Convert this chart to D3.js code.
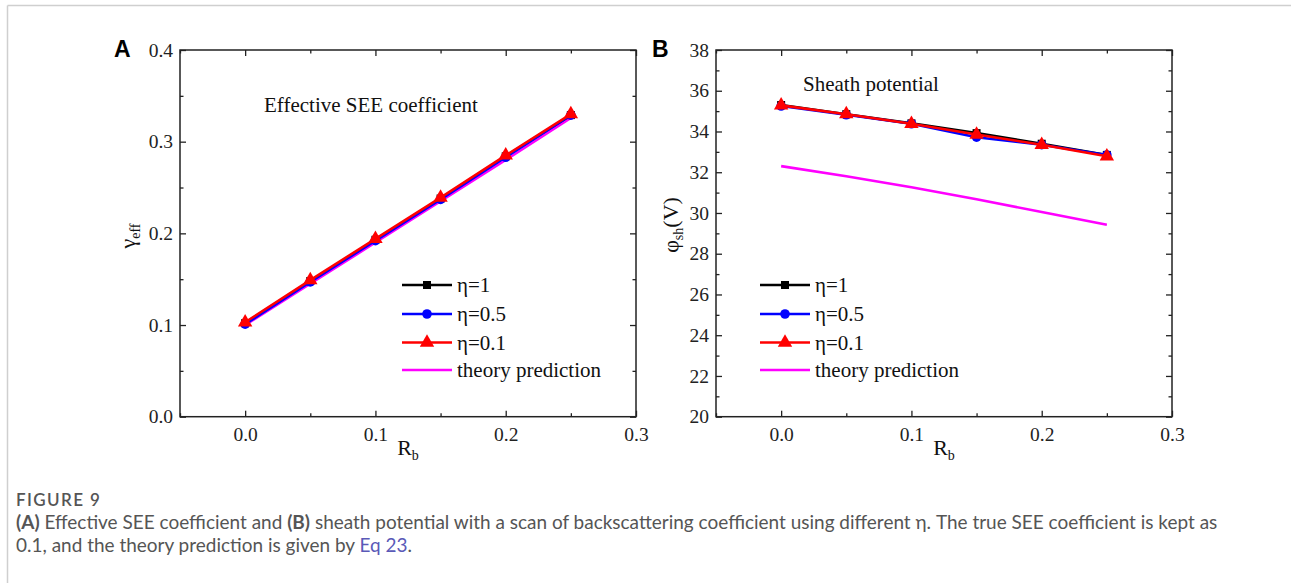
<!DOCTYPE html>
<html>
<head>
<meta charset="utf-8">
<script src="https://cdn.jsdelivr.net/npm/d3@7"></script>
<style>
  body { margin: 0; background: #fff; }
  svg text { font-family: "Liberation Serif", "Times New Roman", serif; }
</style>
</head>
<body>
<div id="chart"></div>
<script>
// data
const rb = [0, 0.05, 0.1, 0.15, 0.2, 0.25];

const gammaEta1 = [0.102, 0.148, 0.193, 0.238, 0.284, 0.329];
const gammaEta05 = [0.101, 0.147, 0.192, 0.237, 0.283, 0.329];
const gammaEta01 = [0.103, 0.149, 0.194, 0.239, 0.285, 0.330];
const gammaTheory = [0.100, 0.145, 0.190, 0.235, 0.280, 0.326];

const phiEta1 = [35.30, 34.85, 34.40, 33.92, 33.40, 32.85];
const phiEta05 = [35.25, 34.82, 34.38, 33.72, 33.35, 32.85];
const phiEta01 = [35.28, 34.85, 34.38, 33.85, 33.35, 32.78];
const phiTheory = [32.30, 31.80, 31.26, 30.67, 30.05, 29.42];

const legendLabels = ["η=1", "η=0.5", "η=0.1", "theory prediction"];
const xTicks = [0.0, 0.1, 0.2, 0.3];
const xMinor = [-0.05, 0.05, 0.15, 0.25];
const gammaTicks = [0.0, 0.1, 0.2, 0.3, 0.4];
const gammaMinor = [0.05, 0.15, 0.25, 0.35];
const phiTicks = [20, 22, 24, 26, 28, 30, 32, 34, 36, 38];
const phiMinor = [21, 23, 25, 27, 29, 31, 33, 35, 37];

// svg container
const svgWidth = 1291;
const svgHeight = 583;

const svg = d3.select("#chart").append("svg")
    .attr("width", svgWidth)
    .attr("height", svgHeight);

// light page border
svg.append("line").attr("x1", 7.5).attr("x2", svgWidth).attr("y1", 5.5).attr("y2", 5.5)
    .attr("stroke", "#cfcfcf").attr("stroke-width", 1.5);
svg.append("line").attr("x1", 7.5).attr("x2", 7.5).attr("y1", 5.5).attr("y2", svgHeight)
    .attr("stroke", "#cfcfcf").attr("stroke-width", 1.5);

const seriesStyle = [
    { color: "#000000", symbol: d3.symbolSquare, size: 64 },
    { color: "#0000ff", symbol: d3.symbolCircle, size: 72 },
    { color: "#ff0000", symbol: d3.symbolTriangle, size: 90 },
    { color: "#ff00ff", symbol: null, size: 0 }
];

function drawPanel(opt) {
    const g = svg.append("g");
    const x = d3.scaleLinear().domain([-0.05, 0.3]).range([opt.left, opt.right]);
    const y = d3.scaleLinear().domain(opt.yDomain).range([opt.bottom, opt.top]);

    // theory first, then simulation series on top
    const series = [opt.values[3], opt.values[0], opt.values[1], opt.values[2]];
    const styles = [seriesStyle[3], seriesStyle[0], seriesStyle[1], seriesStyle[2]];
    const line = d3.line().x((d, i) => x(rb[i])).y(d => y(d));

    series.forEach(function(vals, k) {
        const st = styles[k];
        g.append("path")
            .datum(vals)
            .attr("d", line)
            .attr("fill", "none")
            .attr("stroke", st.color)
            .attr("stroke-width", 2.6);
        if (st.symbol) {
            g.selectAll(null)
                .data(vals)
                .enter()
                .append("path")
                .attr("d", d3.symbol().type(st.symbol).size(st.size))
                .attr("transform", (d, i) => `translate(${x(rb[i])},${y(d)})`)
                .attr("fill", st.color);
        }
    });

    // axes, ticks pointing inwards on all four sides
    const axes = [
        { ax: d3.axisBottom(x), tr: `translate(0,${opt.bottom})`, major: xTicks, minor: xMinor, label: true, fmt: d3.format(".1f") },
        { ax: d3.axisTop(x), tr: `translate(0,${opt.top})`, major: xTicks, minor: xMinor, label: false },
        { ax: d3.axisLeft(y), tr: `translate(${opt.left},0)`, major: opt.yTicks, minor: opt.yMinor, label: true, fmt: opt.yFormat },
        { ax: d3.axisRight(y), tr: `translate(${opt.right},0)`, major: opt.yTicks, minor: opt.yMinor, label: false }
    ];
    axes.forEach(function(a, k) {
        const isX = k < 2;
        const majorAxis = a.ax.tickValues(a.major).tickSizeInner(-6).tickSizeOuter(0)
            .tickPadding(isX ? 10 : 7)
            .tickFormat(a.label ? a.fmt : "");
        const ga = g.append("g").attr("transform", a.tr).call(majorAxis);
        ga.select(".domain").remove();
        ga.selectAll(".tick line").attr("stroke", "#222").attr("stroke-width", 1.3);
        ga.selectAll(".tick text")
            .attr("font-family", "Liberation Serif, Times New Roman, serif")
            .attr("font-size", 19.5)
            .attr("fill", "#222");

        const minorAxis = a.ax.tickValues(a.minor).tickSizeInner(-3.5).tickFormat("");
        const gm = g.append("g").attr("transform", a.tr).call(minorAxis);
        gm.select(".domain").remove();
        gm.selectAll(".tick line").attr("stroke", "#222").attr("stroke-width", 1.3);
    });

    // frame
    g.append("rect")
        .attr("x", opt.left).attr("y", opt.top)
        .attr("width", opt.right - opt.left).attr("height", opt.bottom - opt.top)
        .attr("fill", "none").attr("stroke", "#222").attr("stroke-width", 1.5);

    // panel letter
    g.append("text")
        .attr("x", opt.letterX).attr("y", 57)
        .style("font-family", "'Liberation Sans', Arial, sans-serif")
        .attr("font-weight", "bold")
        .attr("font-size", 23)
        .text(opt.letter);

    // inner title
    g.append("text")
        .attr("x", opt.titleX).attr("y", opt.titleY)
        .attr("font-size", 21)
        .attr("fill", "#111")
        .text(opt.title);

    // x label
    const xl = g.append("text")
        .attr("x", (opt.left + opt.right) / 2).attr("y", 455)
        .attr("text-anchor", "middle")
        .attr("font-size", 22)
        .attr("fill", "#111");
    xl.append("tspan").text("R");
    xl.append("tspan").attr("font-size", 14).attr("dy", 5).text("b");

    // y label
    const yl = g.append("text")
        .attr("transform", `translate(${opt.yLabelX},${opt.yLabelY}) rotate(-90)`)
        .attr("text-anchor", "middle")
        .attr("font-size", 22)
        .attr("fill", "#111");
    yl.append("tspan").text(opt.yLabel[0]);
    yl.append("tspan").attr("font-size", 14).attr("dy", 5).text(opt.yLabel[1]);
    if (opt.yLabel[2]) yl.append("tspan").attr("font-size", 22).attr("dy", -5).text(opt.yLabel[2]);

    // legend
    const rowY = [285, 314, 342.5, 370];
    legendLabels.forEach(function(lab, k) {
        const st = seriesStyle[k];
        const lg = g.append("g").attr("transform", `translate(${opt.legendX},${rowY[k]})`);
        lg.append("line").attr("x1", 0).attr("x2", 50).attr("y1", 0).attr("y2", 0)
            .attr("stroke", st.color).attr("stroke-width", 2.6);
        if (st.symbol) {
            lg.append("path")
                .attr("d", d3.symbol().type(st.symbol).size(st.size))
                .attr("transform", "translate(25,0)")
                .attr("fill", st.color);
        }
        lg.append("text").attr("x", 55).attr("y", 7)
            .attr("font-size", 21).attr("fill", "#111").text(lab);
    });
}

drawPanel({
    left: 180, right: 636, top: 50, bottom: 416.7,
    yDomain: [0, 0.4], yTicks: gammaTicks, yMinor: gammaMinor, yFormat: d3.format(".1f"),
    values: [gammaEta1, gammaEta05, gammaEta01, gammaTheory],
    letter: "A", letterX: 114,
    title: "Effective SEE coefficient", titleX: 264, titleY: 112,
    yLabel: ["γ", "eff"], yLabelX: 135, yLabelY: 236,
    legendX: 402
});

drawPanel({
    left: 716, right: 1172, top: 50, bottom: 416.7,
    yDomain: [20, 38], yTicks: phiTicks, yMinor: phiMinor, yFormat: d3.format("d"),
    values: [phiEta1, phiEta05, phiEta01, phiTheory],
    letter: "B", letterX: 652,
    title: "Sheath potential", titleX: 803, titleY: 91,
    yLabel: ["φ", "sh", "(V)"], yLabelX: 678, yLabelY: 225,
    legendX: 760
});

// caption
const capFont = "Lato, 'Open Sans', sans-serif";
svg.append("text")
    .attr("x", 16).attr("y", 506)
    .style("font-family", capFont)
    .attr("font-size", 17)
    .attr("font-weight", 600)
    .attr("letter-spacing", 1.4)
    .attr("fill", "#555")
    .text("FIGURE 9");

const cap1 = svg.append("text")
    .attr("x", 16).attr("y", 529)
    .style("font-family", capFont)
    .attr("font-size", 15)
    .attr("fill", "#555");
cap1.append("tspan").attr("font-weight", "bold").text("(A)");
cap1.append("tspan").text(" Effective SEE coefficient and ");
cap1.append("tspan").attr("font-weight", "bold").text("(B)");
cap1.append("tspan").text(" sheath potential with a scan of backscattering coefficient using different η. The true SEE coefficient is kept as");

const cap2 = svg.append("text")
    .attr("x", 16).attr("y", 552)
    .style("font-family", capFont)
    .attr("font-size", 15)
    .attr("fill", "#555");
cap2.append("tspan").text("0.1, and the theory prediction is given by ");
cap2.append("tspan").attr("fill", "#5a5ab8").text("Eq 23");
cap2.append("tspan").text(".");

// fit caption size to the reference line width
const w1 = cap1.node().getComputedTextLength();
const capSize = 15 * 1202 / w1;
cap1.attr("font-size", capSize);
cap2.attr("font-size", capSize);
</script>
</body>
</html>
